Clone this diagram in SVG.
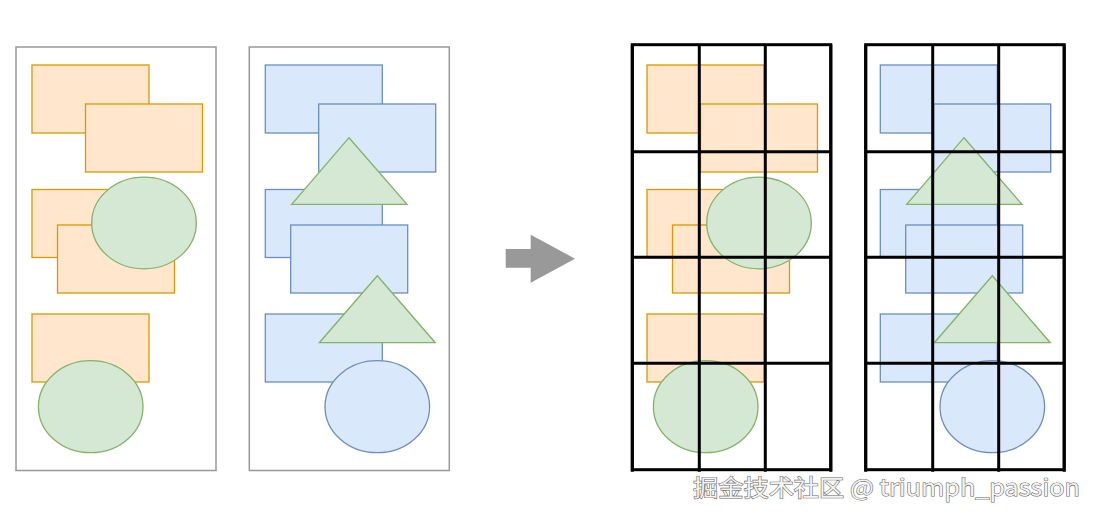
<svg xmlns="http://www.w3.org/2000/svg" xmlns:xlink="http://www.w3.org/1999/xlink" width="1099" height="520" viewBox="0 0 1099 520">
<style>
.panel{fill:#fff;stroke:#999;stroke-width:1.5}
.o{fill:#ffe6cc;stroke:#d79b00;stroke-width:1.3}
.g{fill:#d5e8d4;stroke:#82b366;stroke-width:1.3}
.b{fill:#dae8fc;stroke:#6c8ebf;stroke-width:1.3}
.grid{fill:none;stroke:#000;stroke-width:3}
.wm{font-family:"Noto Sans CJK SC","Noto Sans",sans-serif;font-size:23px;fill:#f4f4f4;stroke:#666;stroke-width:1.1;paint-order:stroke}
</style>
<defs>
<g id="orangeSet">
<rect class="o" x="32" y="65" width="117" height="68"/>
<rect class="o" x="85.5" y="104" width="117" height="68"/>
<rect class="o" x="32" y="189.5" width="117" height="68"/>
<rect class="o" x="57.5" y="225" width="117" height="68"/>
<ellipse class="g" cx="144" cy="223" rx="52.3" ry="45.8"/>
<rect class="o" x="32" y="314" width="117" height="68"/>
<ellipse class="g" cx="90.7" cy="406.7" rx="52.3" ry="46"/>
</g>
<g id="blueSet">
<rect class="b" x="265.3" y="65" width="117" height="68"/>
<rect class="b" x="318.7" y="104" width="117" height="68"/>
<rect class="b" x="265.3" y="189.5" width="117" height="68"/>
<polygon class="g" points="349,137.7 407,204.3 291.7,204.3"/>
<rect class="b" x="290.7" y="225" width="117" height="68"/>
<rect class="b" x="265.3" y="314" width="117" height="68"/>
<polygon class="g" points="377.3,275.7 435.3,342.7 319.3,342.7"/>
<ellipse class="b" cx="377.3" cy="406.7" rx="52.3" ry="46"/>
</g>
<g id="gridShape">
<rect class="grid" x="0" y="0" width="198.5" height="425"/>
<line class="grid" x1="0" y1="107" x2="198.5" y2="107"/>
<line class="grid" x1="0" y1="212.6" x2="198.5" y2="212.6"/>
<line class="grid" x1="0" y1="318.6" x2="198.5" y2="318.6"/>
<line class="grid" x1="67" y1="0" x2="67" y2="427"/>
<line class="grid" x1="133" y1="0" x2="133" y2="427"/>
<line class="grid" x1="0" y1="0" x2="0" y2="427"/>
<line class="grid" x1="198.5" y1="0" x2="198.5" y2="427"/>
</g>
</defs>

<g id="panel-left">
<rect class="panel" x="16" y="47" width="200" height="423.5"/>
<use xlink:href="#orangeSet"/>
</g>
<g id="panel-right">
<rect class="panel" x="249.3" y="47" width="200" height="423.5"/>
<use xlink:href="#blueSet"/>
</g>

<g id="connectors">
<polygon fill="#999" points="505.7,249 530.7,249 530.7,234.7 575,258.7 530.7,282.7 530.7,267.7 505.7,267.7"/>
</g>

<g id="grid-left">
<use xlink:href="#orangeSet" transform="translate(615,0)"/>
<use xlink:href="#gridShape" transform="translate(632.3,44.7)"/>
</g>
<g id="grid-right">
<use xlink:href="#blueSet" transform="translate(615,0)"/>
<use xlink:href="#gridShape" transform="translate(865.7,44.7)"/>
</g>

<text class="wm" x="693" y="496" textLength="387" lengthAdjust="spacingAndGlyphs">掘金技术社区 @ triumph_passion</text>
</svg>
